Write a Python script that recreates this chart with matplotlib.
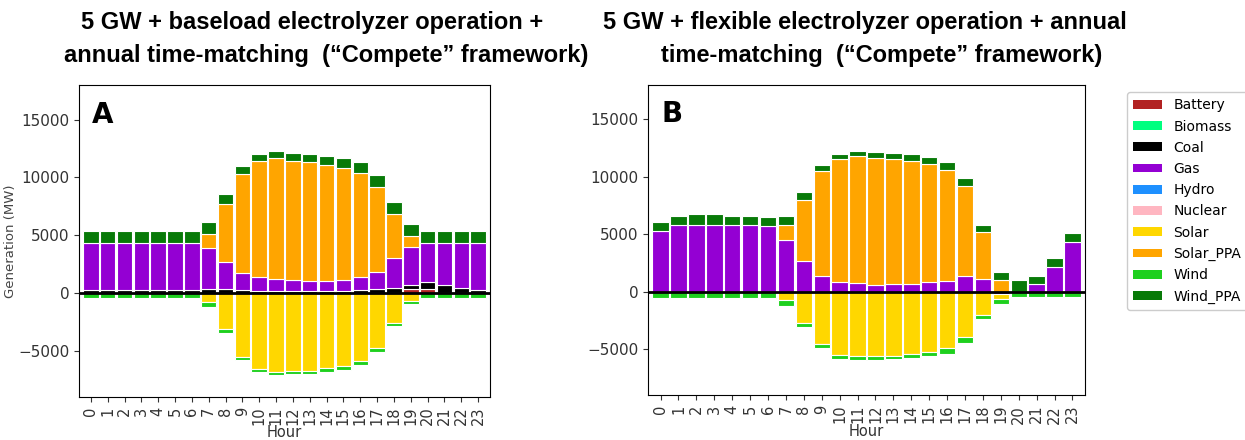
import numpy as np
import matplotlib.pyplot as plt
from matplotlib.patches import Patch

plt.rcParams['font.family'] = ['DejaVu Sans']

hours = np.arange(24)
techs = ['Battery', 'Biomass', 'Coal', 'Gas', 'Hydro', 'Nuclear',
         'Solar', 'Solar_PPA', 'Wind', 'Wind_PPA']
colors = ['#b22222', '#00ff7f', '#000000', '#9400d3', '#1e90ff', '#ffb6c1',
          '#ffd700', '#ffa500', '#1ed01e', '#087a08']

# scenario A: baseload electrolyzer (MW)
a_battery = [0]*19 + [300, 350, 0, 0, 0]
a_coal = [250]*7 + [300, 300, 250, 200, 150, 150, 150, 200, 200, 250, 300, 400, 420, 550, 690, 430, 290]
a_gas = [4050]*7 + [3570, 2360, 1480, 1160, 1035, 950, 860, 810, 930, 1110, 1490, 2660, 3240, 3430, 3610, 3870, 4010]
a_solar = [0]*7 + [-810, -3120, -5520, -6590, -6880, -6790, -6730, -6500, -6360, -5920, -4800, -2600, -665, 0, 0, 0, 0]
a_solar_ppa = [0]*7 + [1245, 5000, 8560, 10080, 10490, 10340, 10290, 10060, 9710, 9040, 7340, 3790, 950, 0, 0, 0, 0]
a_wind = [-450, -450, -450, -450, -450, -400, -450, -430, -380, -290, -290, -230, -230, -290, -350, -320, -320, -340, -290, -285, -450, -450, -450, -450]
a_wind_ppa = [1100]*7 + [1015, 865, 720, 550, 605, 670, 690, 750, 835, 930, 1040, 1040, 1010, 1070, 1100, 1100, 1100]

# scenario B: flexible electrolyzer (MW)
b_gas = [5270, 5820, 5850, 5850, 5850, 5850, 5700, 4540, 2650, 1400, 870, 790, 580, 670, 670, 840, 960, 1340, 1130, -200, 0, 630, 2190, 4360]
b_solar = [0]*7 + [-730, -2680, -4570, -5500, -5620, -5620, -5560, -5380, -5210, -4920, -3930, -2030, -400, 0, 0, 0, 0]
b_solar_ppa = [0]*7 + [1310, 5290, 9100, 10650, 11020, 11060, 10880, 10740, 10310, 9600, 7860, 4040, 1010, 0, 0, 0, 0]
b_wind = [-550]*7 + [-490, -375, -350, -320, -350, -350, -320, -410, -410, -460, -520, -370, -500, -470, -500, -500, -500]
b_wind_ppa = [780, 730, 930, 930, 780, 780, 790, 700, 730, 560, 440, 440, 550, 530, 550, 580, 700, 690, 650, 720, 1000, 780, 780, 770]

zeros = [0]*24
gen_a = {'Battery': a_battery, 'Biomass': zeros, 'Coal': a_coal, 'Gas': a_gas,
         'Hydro': zeros, 'Nuclear': zeros, 'Solar': a_solar,
         'Solar_PPA': a_solar_ppa, 'Wind': a_wind, 'Wind_PPA': a_wind_ppa}
gen_b = {'Battery': zeros, 'Biomass': zeros, 'Coal': zeros, 'Gas': b_gas,
         'Hydro': zeros, 'Nuclear': zeros, 'Solar': b_solar,
         'Solar_PPA': b_solar_ppa, 'Wind': b_wind, 'Wind_PPA': b_wind_ppa}


def stacked(ax, gen):
    pos = np.zeros(24)
    neg = np.zeros(24)
    for t, c in zip(techs, colors):
        v = np.array(gen[t], dtype=float)
        up = v > 0
        dn = v < 0
        if up.any():
            ax.bar(hours[up], v[up], bottom=pos[up], width=0.92, color=c,
                   edgecolor='white', linewidth=0.8)
            pos[up] += v[up]
        if dn.any():
            ax.bar(hours[dn], v[dn], bottom=neg[dn], width=0.92, color=c,
                   edgecolor='white', linewidth=0.8)
            neg[dn] += v[dn]
    ax.axhline(0, color='black', linewidth=2, zorder=5)
    ax.set_xlim(-0.7, 23.7)
    ax.set_ylim(-9000, 18000)
    ax.set_yticks([-5000, 0, 5000, 10000, 15000])
    ax.set_xticks(hours)
    ax.set_xticklabels([str(h) for h in hours], rotation=90, fontsize=10.5)
    ax.tick_params(axis='both', colors='#333333')
    ax.tick_params(axis='y', labelsize=11)
    ax.set_xlabel('Hour', fontsize=10.5, labelpad=0, color='#333333')


fig = plt.figure(figsize=(12.45, 4.4), dpi=100)
ax_a = fig.add_axes([0.0635, 0.098, 0.330, 0.709])
ax_b = fig.add_axes([0.5205, 0.102, 0.351, 0.705])

stacked(ax_a, gen_a)
stacked(ax_b, gen_b)
ax_a.set_ylabel('Generation (MW)', fontsize=9.5, color='#444444', labelpad=1)

ax_a.text(0.03, 0.95, 'A', transform=ax_a.transAxes, fontsize=20,
          fontweight='bold', va='top')
ax_b.text(0.03, 0.95, 'B', transform=ax_b.transAxes, fontsize=20,
          fontweight='bold', va='top')

handles = [Patch(facecolor=c, label=t) for t, c in zip(techs, colors)]
ax_b.legend(handles=handles, loc='upper left', bbox_to_anchor=(1.096, 0.977),
            borderaxespad=0, fontsize=10, handlelength=2.1, handleheight=0.6,
            handletextpad=0.8, labelspacing=0.52, borderpad=0.45,
            framealpha=1)

title_font = dict(family='Liberation Sans', fontsize=17, fontweight='bold',
                  ha='center', va='center')
fig.text(0.251, 0.949, '5 GW + baseload electrolyzer operation +', **title_font)
fig.text(0.262, 0.873, 'annual time-matching  (\u201cCompete\u201d framework)', **title_font)
fig.text(0.695, 0.949, '5 GW + flexible electrolyzer operation + annual', **title_font)
fig.text(0.708, 0.873, 'time-matching  (\u201cCompete\u201d framework)', **title_font)

fig.savefig('out.png', dpi=100)
